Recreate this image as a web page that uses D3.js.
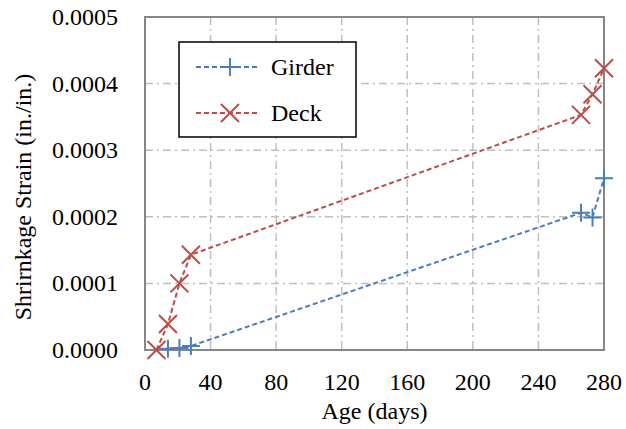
<!DOCTYPE html>
<html>
<head>
<meta charset="utf-8">
<style>
  @font-face { font-family: "ChartSerif"; src: local("Liberation Serif"), local("LiberationSerif"), local("Times New Roman"); }
  body { margin: 0; background: #fff; }
</style>
</head>
<body>
<svg width="626" height="429"></svg>

<script src="https://d3js.org/d3.v7.min.js"></script>
<script>
  // shrinkage readings, age in days vs strain
  const girderDays = [14, 21, 28, 266, 273, 280];
  const girderStrain = [0.000002, 0.000003, 0.000006, 0.000206, 0.000199, 0.000258];
  const deckDays = [7, 14, 21, 28, 266, 273, 280];
  const deckStrain = [0, 0.000039, 0.000100, 0.000143, 0.000353, 0.000384, 0.000423];
  const xTicks = [0, 40, 80, 120, 160, 200, 240, 280];
  const yTicks = [0, 0.0001, 0.0002, 0.0003, 0.0004, 0.0005];

  const serif = '"Liberation Serif", ChartSerif, serif';
  const svg = d3.select("svg").attr("font-family", serif);
  const plotL = 145, plotR = 604, plotT = 17, plotB = 350;

  const x = d3.scaleLinear().domain([0, 280]).range([plotL, plotR]);
  const y = d3.scaleLinear().domain([0, 0.0005]).range([plotB, plotT]);

  const series = [
    { name: "Girder", color: "#4a7ebb", marker: "plus",
      pts: girderDays.map((d, i) => [d, girderStrain[i]]) },
    { name: "Deck", color: "#be4b48", marker: "cross",
      pts: deckDays.map((d, i) => [d, deckStrain[i]]) }
  ];

  // grid lines (dash-dot gray)
  svg.append("g")
    .selectAll("line")
    .data(xTicks.slice(1, -1))
    .join("line")
    .attr("x1", d => x(d)).attr("x2", d => x(d))
    .attr("y1", plotT).attr("y2", plotB)
    .attr("stroke", "#bfbfbf").attr("stroke-width", 1.5)
    .attr("stroke-dasharray", "8,4,2,4");

  svg.append("g")
    .selectAll("line")
    .data(yTicks.slice(1, -1))
    .join("line")
    .attr("x1", plotL).attr("x2", plotR)
    .attr("y1", d => y(d)).attr("y2", d => y(d))
    .attr("stroke", "#bfbfbf").attr("stroke-width", 1.5)
    .attr("stroke-dasharray", "8,4,2,4");

  // plot frame
  svg.append("rect")
    .attr("x", plotL).attr("y", plotT)
    .attr("width", plotR - plotL).attr("height", plotB - plotT)
    .attr("fill", "none").attr("stroke", "#868686").attr("stroke-width", 2);

  // axis tick labels, drawn from the scales without tick marks
  svg.append("g")
    .selectAll("text")
    .data(xTicks)
    .join("text")
    .attr("x", d => x(d)).attr("y", plotB + 40)
    .attr("text-anchor", "middle")
    .attr("font-family", serif).attr("font-size", 24)
    .text(d => d);

  svg.append("g")
    .selectAll("text")
    .data(yTicks)
    .join("text")
    .attr("x", plotL - 27).attr("y", d => y(d) + 8)
    .attr("text-anchor", "end")
    .attr("font-family", serif).attr("font-size", 24)
    .text(d3.format(".4f"));

  // axis titles
  svg.append("text")
    .attr("x", (plotL + plotR) / 2).attr("y", 419)
    .attr("text-anchor", "middle")
    .attr("font-family", serif).attr("font-size", 24)
    .text("Age (days)");
  svg.append("text")
    .attr("transform", "translate(31,197) rotate(-90)")
    .attr("text-anchor", "middle")
    .attr("font-family", serif).attr("font-size", 24)
    .text("Shrirnkage Strain (in./in.)");

  const markerPath = (type, s) => type === "plus"
    ? `M${-s},0H${s}M0,${-s}V${s}`
    : `M${-s},${-s}L${s},${s}M${-s},${s}L${s},${-s}`;

  const line = d3.line().x(d => x(d[0])).y(d => y(d[1]));

  series.forEach(s => {
    const g = svg.append("g");
    g.append("path")
      .attr("d", line(s.pts))
      .attr("fill", "none").attr("stroke", s.color)
      .attr("stroke-width", 2).attr("stroke-dasharray", "5,3");
    g.selectAll("path.m")
      .data(s.pts)
      .join("path")
      .attr("class", "m")
      .attr("transform", d => `translate(${x(d[0])},${y(d[1])})`)
      .attr("d", markerPath(s.marker, 9))
      .attr("fill", "none").attr("stroke", s.color).attr("stroke-width", 2);
  });

  // legend
  const lg = svg.append("g").attr("transform", "translate(179,42)");
  lg.append("rect")
    .attr("width", 177).attr("height", 95)
    .attr("fill", "#fff").attr("stroke", "#000").attr("stroke-width", 1.5);
  series.forEach((s, i) => {
    const cy = 25 + i * 46;
    lg.append("line")
      .attr("x1", 17).attr("x2", 78).attr("y1", cy).attr("y2", cy)
      .attr("stroke", s.color).attr("stroke-width", 2).attr("stroke-dasharray", "5,3");
    lg.append("path")
      .attr("transform", `translate(51,${cy})`)
      .attr("d", markerPath(s.marker, 9))
      .attr("fill", "none").attr("stroke", s.color).attr("stroke-width", 2);
    lg.append("text")
      .attr("x", 92).attr("y", cy + 8)
      .attr("font-family", serif).attr("font-size", 24)
      .text(s.name);
  });
</script>
</body>
</html>
